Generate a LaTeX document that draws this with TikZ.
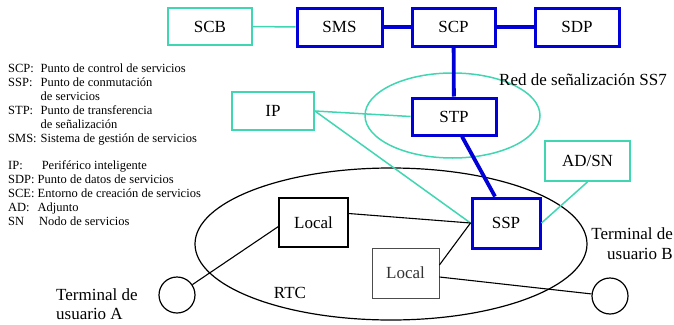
\documentclass[tikz,border=0pt]{standalone}
\usepackage{fontspec}
\setmainfont{Liberation Serif}
\definecolor{turquesa}{RGB}{64,214,178}
\definecolor{azul}{RGB}{0,0,215}

\begin{document}
\begin{tikzpicture}[x = 1pt, y = -1pt, font = \fontsize{17}{20}\selectfont]
	\tikzstyle{redStyle} = [draw = turquesa, line width = 1.8pt, shape = rectangle, inner sep = 0pt]
	\tikzstyle{ssStyle} = [draw = azul, line width = 3pt, shape = rectangle, inner sep = 0pt]
	\tikzstyle{localStyle} = [draw, line width = 1.2pt, shape = rectangle, inner sep = 0pt]
	\tikzstyle{terminalStyle} = [draw, line width = 1.2pt, shape = circle, minimum size = 36pt, inner sep = 0pt]
	\tikzstyle{legendStyle} = [anchor = north west, inner sep = 0pt, font = \fontsize{12.5}{14}\selectfont]
	\tikzstyle{tealEdge} = [draw = turquesa, line width = 1.5pt]
	\tikzstyle{blueEdge} = [draw = azul, line width = 3.8pt]
	\tikzstyle{blackEdge} = [draw, line width = 1.1pt]
	\useasboundingbox (0, 0) rectangle (674, 324);
	% nubes
	\draw[draw = turquesa, line width = 1.5pt] (452.5, 115.5) ellipse [x radius = 87.5pt, y radius = 42.5pt];
	\draw[line width = 1.2pt] (391, 244) ellipse [x radius = 196pt, y radius = 76pt];
	% nodos
	\node[redStyle, minimum width = 84pt, minimum height = 37pt] (scb) at (210, 26.5) {SCB};
	\node[ssStyle, minimum width = 85pt, minimum height = 38pt] (sms) at (339.5, 27) {SMS};
	\node[ssStyle, minimum width = 83pt, minimum height = 38pt] (scp) at (453.5, 27) {SCP};
	\node[ssStyle, minimum width = 84pt, minimum height = 38pt] (sdp) at (577, 27) {SDP};
	\node[redStyle, minimum width = 82pt, minimum height = 38pt] (ip) at (273, 111) {IP};
	\node[ssStyle, minimum width = 84pt, minimum height = 37pt] (stp) at (454, 116.5) {STP};
	\node[redStyle, minimum width = 85pt, minimum height = 40pt] (adsn) at (587.5, 161) {AD/SN};
	\node[ssStyle, minimum width = 68pt, minimum height = 50pt] (ssp) at (506, 223) {SSP};
	\node[localStyle, minimum width = 69pt, minimum height = 49pt] (local1) at (313.5, 222.5) {Local};
	\node[localStyle, draw = black!70, line width = 0.8pt, text = black!80, minimum width = 67pt, minimum height = 50pt] (local2) at (405.5, 273) {Local};
	\node[terminalStyle] (usuA) at (177, 295) {};
	\node[terminalStyle] (usuB) at (610, 296) {};
	% textos
	\node[anchor = west, inner sep = 0pt] (ss7) at (499, 80) {Red de señalización SS7};
	\node[inner sep = 0pt] (rtc) at (290, 293) {RTC};
	\node[anchor = west, align = left, inner sep = 0pt, font = \fontsize{17}{18.5}\selectfont] (textoA) at (56, 304) {Terminal de\\usuario A};
	\node[anchor = east, align = right, inner sep = 0pt] (textoB) at (673, 244) {Terminal de\\usuario B};
	\node[legendStyle] (leyenda1) at (8, 62) {\begin{tabular}{@{}l@{\hspace{4pt}}l@{}}
		SCP: & Punto de control de servicios\\
		SSP: & Punto de conmutación\\
		& de servicios\\
		STP: & Punto de transferencia\\
		& de señalización\\
		SMS: & Sistema de gestión de servicios
	\end{tabular}};
	\node[legendStyle] (leyenda2) at (8, 159) {\begin{tabular}{@{}l@{}}
		IP:\hspace{19pt}Periférico inteligente\\
		SDP: Punto de datos de servicios\\
		SCE: Entorno de creación de servicios\\
		AD:\hspace{8pt}Adjunto\\
		SN\hspace{15pt}Nodo de servicios
	\end{tabular}};
	% enlaces
	\draw[tealEdge] (scb) -- (sms);
	\draw[blueEdge] (sms) -- (scp);
	\draw[blueEdge] (scp) -- (sdp);
	\draw[blueEdge] (scp) -- (stp);
	\draw[tealEdge] (ip.east) -- (stp.west);
	\draw[tealEdge] (ip.east) -- (ssp.west);
	\draw[blueEdge] ([xshift = 8pt]stp.south) -- ([xshift = -11pt]ssp.north);
	\draw[tealEdge] (adsn.south) -- (ssp.east);
	\draw[blackEdge] ([yshift = 9pt]local1.east) -- (ssp.west);
	\draw[blackEdge] ([yshift = 8pt]local2.east) -- (ssp.west);
	\draw[blackEdge] ([yshift = -4pt]local1.west) -- (usuA);
	\draw[blackEdge] ([yshift = -4pt]local2.east) -- (usuB);
\end{tikzpicture}
\end{document}
